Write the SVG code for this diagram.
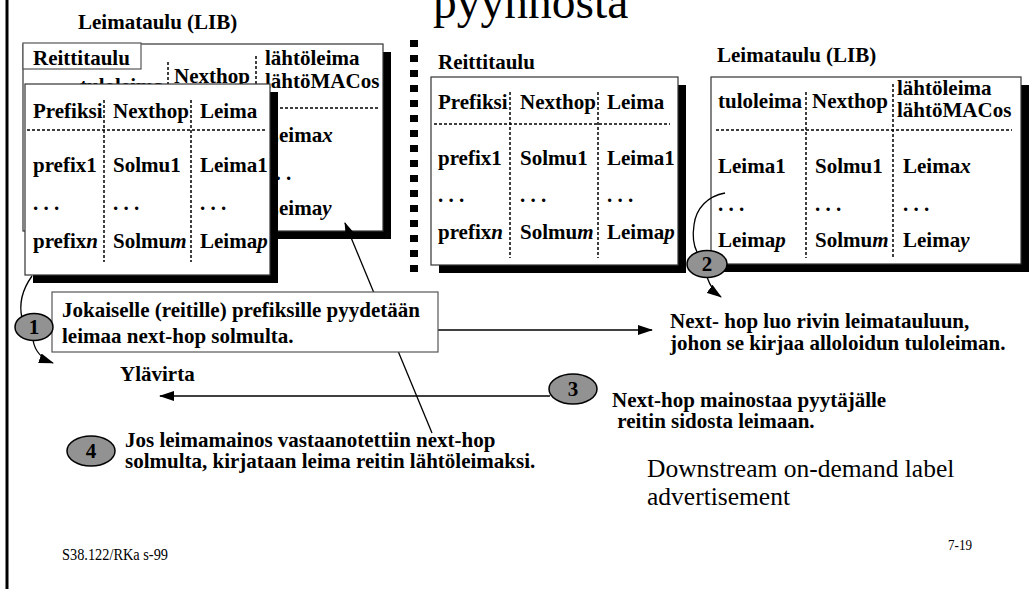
<svg xmlns="http://www.w3.org/2000/svg" width="1029" height="589" viewBox="0 0 1029 589">
<style>
text { font-family: "Liberation Serif", "Times New Roman", serif; fill: #000; }
.b { font-weight: bold; font-size: 21px; }
.i { font-style: italic; }
.r { font-weight: normal; }
.tbl { fill: #fff; stroke: #333; stroke-width: 1.2; }
.sh { fill: #000; }
.dash { stroke: #000; stroke-width: 1.5; stroke-dasharray: 3 2; fill: none; }
.badge { fill: #929292; stroke: #000; stroke-width: 1.5; }
.conn { stroke: #000; stroke-width: 1.3; fill: none; }
.lbl { fill: #fff; stroke: #555; stroke-width: 1.2; }
</style>
<defs>
<marker id="ah" markerUnits="userSpaceOnUse" markerWidth="15" markerHeight="10" refX="14" refY="5" orient="auto">
<path d="M0,0 L15,5 L0,10 z" fill="#000"/>
</marker>
</defs>
<rect width="1029" height="589" fill="#fff"/>
<line x1="7" y1="0" x2="7" y2="589" stroke="#000" stroke-width="3"/>
<text id="title" x="433" y="18" font-size="47.5" class="r">pyynnosta</text>
<line id="separator" x1="414" y1="40" x2="414" y2="275" stroke="#000" stroke-width="8" stroke-dasharray="7 8"/>

<text class="b" x="78" y="29">Leimataulu (LIB)</text>

<g id="lib-left">
<rect class="sh" x="31" y="52" width="360" height="187"/>
<rect class="tbl" x="23" y="44" width="360" height="187"/>
<line class="dash" x1="168" y1="62" x2="168" y2="225"/>
<line class="dash" x1="256" y1="56" x2="256" y2="225"/>
<line class="dash" x1="30" y1="108" x2="378" y2="108"/>
<text class="b" x="80" y="93">tuloleima</text>
<text class="b" x="174" y="83">Nexthop</text>
<text class="b" x="265" y="65">lähtöleima</text>
<text class="b" x="265" y="88">lähtöMACos</text>
<text class="b" x="265" y="142">Leima<tspan class="i">x</tspan></text>
<text class="b" x="265" y="180">. . .</text>
<text class="b" x="265" y="215">Leima<tspan class="i">y</tspan></text>
</g>

<g id="rt-left">
<rect class="sh" x="33" y="92" width="245" height="191"/>
<rect class="tbl" x="25" y="84" width="245" height="191"/>
<line class="dash" x1="104" y1="100" x2="104" y2="262"/>
<line class="dash" x1="191" y1="100" x2="191" y2="262"/>
<line class="dash" x1="27" y1="130" x2="265" y2="130"/>
<text class="b" x="33" y="118">Prefiksi</text>
<text class="b" x="113" y="118">Nexthop</text>
<text class="b" x="200" y="118">Leima</text>
<text class="b" x="33" y="172">prefix1</text>
<text class="b" x="113" y="172">Solmu1</text>
<text class="b" x="200" y="172">Leima1</text>
<text class="b" x="33" y="210">. . .</text>
<text class="b" x="113" y="210">. . .</text>
<text class="b" x="200" y="210">. . .</text>
<text class="b" x="33" y="248">prefix<tspan class="i">n</tspan></text>
<text class="b" x="113" y="248">Solmu<tspan class="i">m</tspan></text>
<text class="b" x="200" y="248">Leima<tspan class="i">p</tspan></text>
</g>

<g id="rt-left-label">
<rect class="lbl" x="23" y="43" width="118" height="26"/>
<text class="b" x="33" y="65">Reittitaulu</text>
</g>

<g id="rt-right">
<text class="b" x="438" y="69">Reittitaulu</text>
<rect class="sh" x="439" y="85" width="247" height="188"/>
<rect class="tbl" x="431" y="77" width="247" height="188"/>
<line class="dash" x1="510" y1="92" x2="510" y2="258"/>
<line class="dash" x1="598" y1="92" x2="598" y2="258"/>
<line class="dash" x1="434" y1="124" x2="670" y2="124"/>
<text class="b" x="438" y="109">Prefiksi</text>
<text class="b" x="520" y="109">Nexthop</text>
<text class="b" x="607" y="109">Leima</text>
<text class="b" x="438" y="165">prefix1</text>
<text class="b" x="520" y="165">Solmu1</text>
<text class="b" x="607" y="165">Leima1</text>
<text class="b" x="438" y="202">. . .</text>
<text class="b" x="520" y="202">. . .</text>
<text class="b" x="607" y="202">. . .</text>
<text class="b" x="438" y="239">prefix<tspan class="i">n</tspan></text>
<text class="b" x="520" y="239">Solmu<tspan class="i">m</tspan></text>
<text class="b" x="607" y="239">Leima<tspan class="i">p</tspan></text>
</g>

<g id="lib-right">
<text class="b" x="717" y="62">Leimataulu (LIB)</text>
<rect class="sh" x="719" y="85" width="310" height="187"/>
<rect class="tbl" x="711" y="77" width="310" height="187"/>
<line class="dash" x1="806" y1="92" x2="806" y2="258"/>
<line class="dash" x1="893" y1="84" x2="893" y2="258"/>
<line class="dash" x1="716" y1="130" x2="1012" y2="130"/>
<text class="b" x="718" y="108">tuloleima</text>
<text class="b" x="812" y="108">Nexthop</text>
<text class="b" x="897" y="95">lähtöleima</text>
<text class="b" x="897" y="117">lähtöMACos</text>
<text class="b" x="718" y="173">Leima1</text>
<text class="b" x="815" y="173">Solmu1</text>
<text class="b" x="903" y="173">Leima<tspan class="i">x</tspan></text>
<text class="b" x="718" y="211">. . .</text>
<text class="b" x="815" y="211">. . .</text>
<text class="b" x="903" y="211">. . .</text>
<text class="b" x="718" y="247">Leima<tspan class="i">p</tspan></text>
<text class="b" x="815" y="247">Solmu<tspan class="i">m</tspan></text>
<text class="b" x="903" y="247">Leima<tspan class="i">y</tspan></text>
</g>

<g id="connectors">
<path class="conn" d="M32,276 C22,290 19,305 22,318"/>
<path class="conn" d="M33,340 C35,352 42,359 53,363" marker-end="url(#ah)"/>
<path class="conn" d="M725,193 C708,196 696,208 694,225 C692,238 694,246 697,252"/>
<path class="conn" d="M707,277 C710,286 714,292 721,297" marker-end="url(#ah)"/>
<line class="conn" x1="432" y1="433" x2="345" y2="223" marker-end="url(#ah)"/>
<line class="conn" x1="438" y1="330" x2="652" y2="330" marker-end="url(#ah)"/>
<line class="conn" x1="550" y1="396" x2="160" y2="396" marker-end="url(#ah)"/>
</g>

<g id="step1-box">
<rect class="lbl" x="52" y="292" width="386" height="60"/>
<text class="b" x="62" y="317">Jokaiselle (reitille) prefiksille pyydetään</text>
<text class="b" x="62" y="343">leimaa next-hop solmulta.</text>
</g>
<g id="badge1">
<ellipse class="badge" cx="34" cy="327" rx="19" ry="13.5"/>
<text class="b" x="34" y="334" text-anchor="middle">1</text>
</g>
<g id="badge2">
<ellipse class="badge" cx="707" cy="264" rx="20" ry="13.5"/>
<text class="b" x="707" y="271" text-anchor="middle">2</text>
</g>
<g id="badge3">
<ellipse class="badge" cx="573" cy="389" rx="24" ry="15"/>
<text class="b" x="573" y="396" text-anchor="middle">3</text>
</g>
<g id="badge4">
<ellipse class="badge" cx="91" cy="451" rx="24" ry="15"/>
<text class="b" x="91" y="458" text-anchor="middle">4</text>
</g>

<g id="notes">
<text class="b" x="670" y="328">Next- hop luo rivin leimatauluun,</text>
<text class="b" x="670" y="350">johon se kirjaa alloloidun tuloleiman.</text>
<text class="b" x="120" y="381">Ylävirta</text>
<text class="b" x="612" y="407">Next-hop mainostaa pyytäjälle</text>
<text class="b" x="612" y="428" xml:space="preserve"> reitin sidosta leimaan.</text>
<text class="b" x="125" y="447">Jos leimamainos vastaanotettiin next-hop</text>
<text class="b" x="125" y="468">solmulta, kirjataan leima reitin lähtöleimaksi.</text>
<text x="647" y="477" font-size="25.5">Downstream on-demand label</text>
<text x="647" y="505" font-size="25.5">advertisement</text>
</g>

<g id="footer">
<text x="62" y="560" font-size="16" textLength="106" lengthAdjust="spacingAndGlyphs">S38.122/RKa s-99</text>
<text x="948" y="550" font-size="15" textLength="24" lengthAdjust="spacingAndGlyphs">7-19</text>
</g>
</svg>
